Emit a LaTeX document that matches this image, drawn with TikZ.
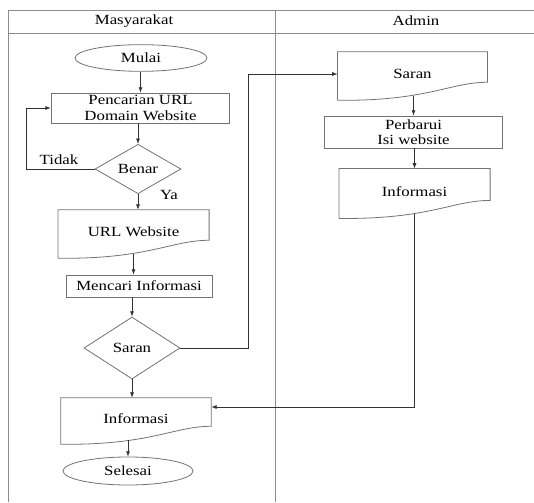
\documentclass[tikz,border=0pt]{standalone}
\usepackage{fontspec}
\setmainfont{Liberation Serif}[FakeStretch=1.2]
\usetikzlibrary{shapes.geometric,arrows.meta,calc}

% outline of a document symbol round a node
\newcommand{\docout}[1]{%
\draw[shape line] ($(#1.south west)+(0,4)$) -- (#1.north west) -- (#1.north east) -- ($(#1.south east)+(0,-14)$)
 .. controls ($(#1.south west)!0.75!(#1.south east)+(0,-14)$) and ($(#1.south west)!0.6!(#1.south east)+(0,5)$) .. ($(#1.south west)+(0,4)$);}

\begin{document}
\begin{tikzpicture}
[x=0.75pt, y=-0.75pt,
font=\fontsize{10.5}{11.5}\selectfont,
lane/.style={black!45, line width=0.6pt},
shape line/.style={black!55, line width=0.6pt},
arrow/.style={black!80, line width=0.5pt, -{Latex[length=4pt,width=3pt]}},
terminal/.style={ellipse, draw=black!55, line width=0.6pt, inner sep=0pt},
process/.style={rectangle, draw=black!55, line width=0.6pt, inner sep=0pt, align=center},
decision/.style={diamond, draw=black!55, line width=0.6pt, inner sep=0pt},
document/.style={rectangle, inner sep=0pt, align=center}]
\useasboundingbox (0,0) rectangle (534,502);
% swimlanes
\draw[lane] (534,10) -- (8,10) -- (8,502);
\draw[lane] (8,33) -- (534,33);
\draw[lane] (275,10) -- (275,502);
\node (masyarakat) at (134,21) {Masyarakat};
\node (admin) at (416,21) {Admin};
% Masyarakat
\node[terminal, minimum width=99pt, minimum height=20pt] (mulai) at (141,58) {Mulai};
\node[process, minimum width=134pt, minimum height=22.5pt] (cari) at (140.5,108) {Pencarian URL\\Domain Website};
\node[decision, minimum width=64.5pt, minimum height=36pt] (benar) at (138,169) {Benar};
\node[document, minimum width=113pt, minimum height=33pt] (url) at (133.5,232) {URL Website};
\node[process, minimum width=109.5pt, minimum height=16.5pt] (mencari) at (139,286) {Mencari Informasi};
\node[decision, minimum width=72pt, minimum height=46.5pt] (saran) at (132,348) {Saran};
\node[document, minimum width=112.5pt, minimum height=31.5pt] (info) at (136,419) {Informasi};
\node[terminal, minimum width=97.5pt, minimum height=21pt] (selesai) at (128,471) {Selesai};
% Admin
\node[document, minimum width=112pt, minimum height=33pt] (asaran) at (412.5,74) {Saran};
\node[process, minimum width=134pt, minimum height=24pt] (perbarui) at (413.5,132) {Perbarui\\Isi website};
\node[document, minimum width=113pt, minimum height=34pt] (ainfo) at (414.5,191.5) {Informasi};
\docout{url}
\docout{info}
\docout{asaran}
\docout{ainfo}
% arrows
\draw[arrow] (mulai.south -| cari.north) -- (cari.north);
\draw[arrow] (cari.south -| benar.north) -- (benar.north);
\draw[arrow] (benar.west) -- ++(-68,0) |- (cari.west);
\node (tidak) at (59,160) {Tidak};
\draw[arrow] (benar.south) -- (benar.south |- url.north);
\node (ya) at (169,195) {Ya};
\draw[arrow] (url.south) -- (url.south |- mencari.north);
\draw[arrow] (mencari.south -| saran.north) -- (saran.north);
\draw[arrow] (saran.east) -- ++(68,0) |- (asaran.west);
\draw[arrow] (saran.south) -- (saran.south |- info.north);
\draw[arrow] (selesai.north |- info.south) -- (selesai.north);
\draw[arrow] (asaran.south -| perbarui.north) -- (perbarui.north);
\draw[arrow] (perbarui.south -| ainfo.north) -- (ainfo.north);
\draw[arrow] (ainfo.south) |- ([yshift=9pt]info.east);
\end{tikzpicture}
\end{document}
